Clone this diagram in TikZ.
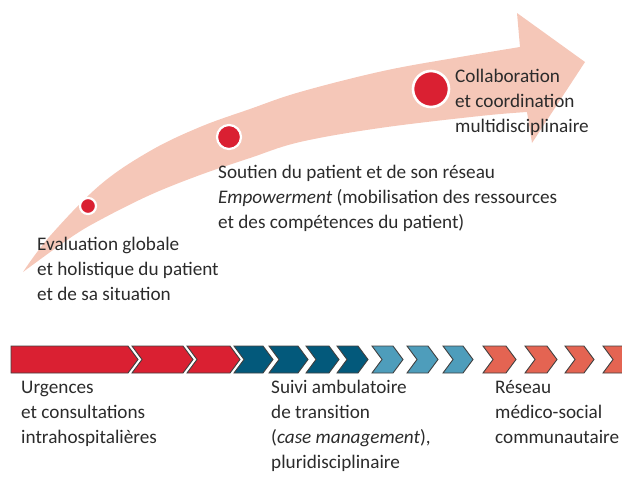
\documentclass[tikz,border=0pt]{standalone}
\usepackage{fontspec}
\setmainfont{Carlito}
\definecolor{arrowpink}{HTML}{F5C7B8}
\definecolor{dotred}{HTML}{DA2032}
\definecolor{deepblue}{HTML}{03597B}
\definecolor{paleblue}{HTML}{4E9DBB}
\definecolor{coral}{HTML}{E46452}
\definecolor{textgrey}{HTML}{2B2B2B}
\begin{document}
\begin{tikzpicture}[
  x=1pt, y=-1pt,
  every node/.style={font=\fontsize{19.2}{25}\selectfont, text=textgrey},
  desc/.style={anchor=base west, align=left, inner sep=0pt},
  dot/.style={circle, fill=dotred, draw=white, line width=2.2pt, inner sep=0pt},
  chevron/.style={draw=black!75, line width=0.9pt, line join=miter}
]
  \useasboundingbox (0,0) rectangle (622,483);
  \clip (0,0) rectangle (622,483);

  % curved arrow
  \fill[arrowpink] plot[smooth, tension=0.6] coordinates {(23,272) (50,236) (100,185) (150,151) (200,127) (250,109) (300,92) (383,71) (460,57) (520,47)}
    -- (517,13) -- (585,62) -- (532,143)
    -- plot[smooth, tension=0.6] coordinates {(527,112) (480,116) (380,128) (300,142) (250,158) (200,175) (150,195) (100,220) (70,238) (23,272)}
    -- cycle;

  \node[dot, minimum size=16pt] (dotevaluation) at (88,206) {};
  \node[dot, minimum size=24pt] (dotsoutien) at (229,137) {};
  \node[dot, minimum size=36pt, line width=2.6pt] (dotcollab) at (431,89) {};

  % text nodes sit on the baseline of their last line
  \node[desc] (evaluation) at (37,300) {Evaluation globale\\et holistique du patient\\et de sa situation};
  \node[desc] (soutien) at (218,228) {Soutien du patient et de son réseau\\\textit{Empowerment} (mobilisation des ressources\\et des compétences du patient)};
  \node[desc] (collab) at (455,132) {Collaboration\\et coordination\\multidisciplinaire};

  % care pathway band
  \filldraw[chevron, fill=dotred] (11,346) -- (128,346) -- (138,359.5) -- (128,373) -- (11,373) -- cycle;
  \foreach \a/\b/\c in {132/193/dotred, 187/240/dotred,
                        234/273/deepblue, 269/308/deepblue, 306/339/deepblue, 337/368/deepblue,
                        372/403/paleblue, 407/438/paleblue, 443/473/paleblue,
                        483/516/coral, 525/557/coral, 565/594/coral, 603/635/coral}
    \filldraw[chevron, fill=\c] (\a,346) -- (\b-10,346) -- (\b,359.5) -- (\b-10,373) -- (\a,373) -- (\a+10,359.5) -- cycle;

  \node[desc] (urgences) at (21,443) {Urgences\\et consultations\\intrahospitalières};
  \node[desc] (suivi) at (271,468) {Suivi ambulatoire\\de transition\\(\textit{case management}),\\pluridisciplinaire};
  \node[desc] (reseau) at (495,443) {Réseau\\médico-social\\communautaire};
\end{tikzpicture}
\end{document}
